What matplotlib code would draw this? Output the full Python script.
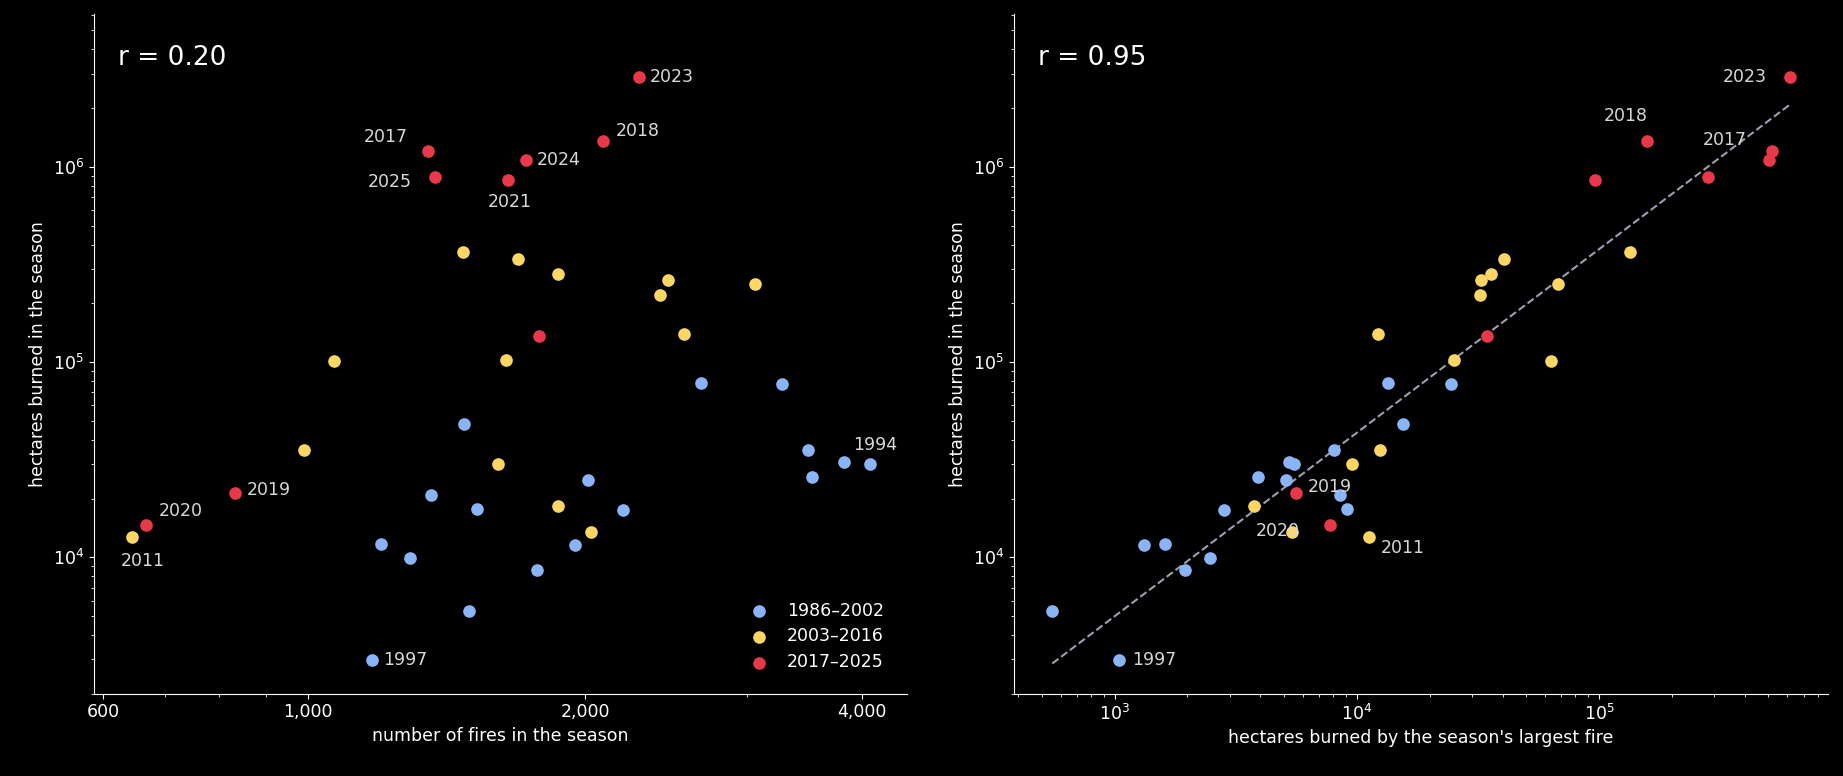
import matplotlib.pyplot as plt
import numpy as np
from matplotlib.ticker import FuncFormatter, FixedLocator, NullFormatter

# season data: number of fires, hectares burned, largest single fire (ha)
years = list(range(1986, 2026))
fires = [2672, 3270, 1476, 3488, 3820, 3530, 2015, 1361, 4075, 1525, 2201, 1175,
         1200, 1952, 1291, 1772, 1495,
         1473, 1690, 1868, 2461, 2411, 3057, 2564, 1642, 644, 1067, 991, 1608, 1868, 2028,
         1349, 2094, 834, 667, 1651, 1782, 2287, 1726, 1373]
area = [78000, 76900, 48000, 35300, 30800, 25700, 25000, 20800, 29900, 17700, 17500, 2990,
        11650, 11500, 9860, 8590, 5280,
        368000, 339000, 283000, 264000, 220000, 250000, 140000, 103000, 12650, 101000, 35300, 29900, 18400, 13400,
        1.21e6, 1.36e6, 21400, 14600, 8.59e5, 1.36e5, 2.87e6, 1.09e6, 8.83e5]
largest = [13400, 24400, 15500, 8090, 5230, 3910, 5100, 8550, 5530, 9140, 2830, 1045,
           1620, 1320, 2470, 1960, 553,
           134000, 40400, 35800, 32700, 32300, 67600, 12200, 25300, 11200, 63200, 12500, 9570, 3780, 5410,
           5.17e5, 1.58e5, 5590, 7730, 96700, 34600, 6.18e5, 5.06e5, 2.83e5]

periods = [("1986–2002", 1986, 2002, "#8ab4f8"),
           ("2003–2016", 2003, 2016, "#fdd663"),
           ("2017–2025", 2017, 2025, "#e8394a")]

left_labels = {2023: (8, 0), 2017: (-46, 10), 2025: (-48, -3), 2024: (8, 0), 2018: (9, 7),
               2021: (-15, -16), 2019: (8, 2), 2020: (9, 10), 2011: (-8, -17), 1997: (8, 0), 1994: (-12, 14)}
right_labels = {2023: (-49, 0), 2018: (-31, 18), 2017: (-50, 8), 2019: (9, 4), 2020: (-53, -4),
                2011: (9, -8), 1997: (9, 0)}

fires = np.array(fires, float)
area = np.array(area, float)
largest = np.array(largest, float)
years = np.array(years)

plt.rcParams['font.family'] = ['DejaVu Sans']
fig = plt.figure(figsize=(18.43, 7.76), dpi=100, facecolor='black')
ax1 = fig.add_axes([0.051, 0.106, 0.441, 0.876])
ax2 = fig.add_axes([0.550, 0.106, 0.442, 0.876])

for ax in (ax1, ax2):
    ax.set_facecolor('black')
    for s in ('top', 'right'):
        ax.spines[s].set_visible(False)
    for s in ('left', 'bottom'):
        ax.spines[s].set_color('white')
    ax.tick_params(which='both', colors='white', labelsize=12.5)
    ax.set_xscale('log')
    ax.set_yscale('log')
    ax.set_ylim(2000, 6.07e6)
    ax.set_ylabel('hectares burned in the season', color='white', fontsize=12.5)

for name, y0, y1, c in periods:
    m = (years >= y0) & (years <= y1)
    ax1.scatter(fires[m], area[m], s=65, color=c, label=name, zorder=3)
    ax2.scatter(largest[m], area[m], s=65, color=c, zorder=3)

for y, off in left_labels.items():
    i = int(np.where(years == y)[0][0])
    ax1.annotate(str(y), (fires[i], area[i]), xytext=off, textcoords='offset points',
                 color='#d8d8d8', fontsize=12.5, va='center')
for y, off in right_labels.items():
    i = int(np.where(years == y)[0][0])
    ax2.annotate(str(y), (largest[i], area[i]), xytext=off, textcoords='offset points',
                 color='#d8d8d8', fontsize=12.5, va='center')

ax1.set_xlim(586, 4470)
ax1.xaxis.set_major_locator(FixedLocator([600, 1000, 2000, 4000]))
ax1.xaxis.set_major_formatter(FuncFormatter(lambda v, p: f"{int(round(v)):,}"))
ax1.xaxis.set_minor_formatter(NullFormatter())
ax1.set_xlabel('number of fires in the season', color='white', fontsize=12.5)
ax1.legend(loc='lower right', frameon=False, fontsize=12.5, labelcolor='white',
           handletextpad=0.6, borderaxespad=0.9, labelspacing=0.45)

ax2.set_xlim(383, 8.85e5)
ax2.set_xlabel("hectares burned by the season's largest fire", color='white', fontsize=12.5)

# log-log fit line
lx, ly = np.log10(largest), np.log10(area)
b, a = np.polyfit(lx, ly, 1)
xs = np.array([largest.min(), largest.max()])
ax2.plot(xs, 10 ** (a + b * np.log10(xs)), '--', color='#9aa0b0', lw=1.5, zorder=2)

ax1.text(0.03, 0.955, 'r = 0.20', transform=ax1.transAxes, color='white', fontsize=19, va='top')
ax2.text(0.03, 0.955, 'r = 0.95', transform=ax2.transAxes, color='white', fontsize=19, va='top')

fig.savefig('out.png', facecolor='black')
